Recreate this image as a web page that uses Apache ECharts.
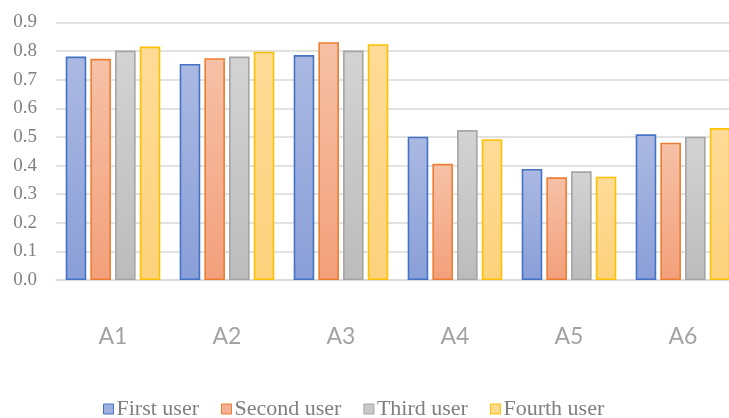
<!DOCTYPE html>
<html>
<head>
<meta charset="utf-8">
<script src="https://cdn.jsdelivr.net/npm/echarts@6/dist/echarts.min.js"></script>
<style>
  html, body { margin: 0; padding: 0; background: #ffffff; overflow: hidden; }
  #chart { width: 729px; height: 418px; }
</style>
</head>
<body>
<div id="chart"></div>
<script>
// Categories and per-user scores
const categories = ['A1', 'A2', 'A3', 'A4', 'A5', 'A6'];
const firstUser  = [0.781, 0.755, 0.786, 0.501, 0.388, 0.509];
const secondUser = [0.773, 0.775, 0.831, 0.406, 0.359, 0.480];
const thirdUser  = [0.802, 0.781, 0.802, 0.524, 0.380, 0.501];
const fourthUser = [0.816, 0.798, 0.824, 0.492, 0.361, 0.531];
const seriesNames = ['First user', 'Second user', 'Third user', 'Fourth user'];
const yTicks = [0, 0.1, 0.2, 0.3, 0.4, 0.5, 0.6, 0.7, 0.8, 0.9];

// Fill gradients (top -> bottom) and outline colours for each user
const palette = [
  { top: '#abb9e2', bottom: '#8a9fd8', border: '#4472c4', icon: '#9fb0de' },
  { top: '#f6c1a7', bottom: '#f3a07b', border: '#ed7d31', icon: '#f4b193' },
  { top: '#d3d3d3', bottom: '#bcbcbc', border: '#a5a5a5', icon: '#c9c9c9' },
  { top: '#fedb97', bottom: '#fdd27c', border: '#ffc000', icon: '#fed88b' }
];

const values = [firstUser, secondUser, thirdUser, fourthUser];

const chart = echarts.init(document.getElementById('chart'), null, { renderer: 'canvas' });

const series = values.map((data, i) => ({
  name: seriesNames[i],
  type: 'bar',
  data: data,
  barGap: '20%',
  barCategoryGap: '17%',
  itemStyle: {
    color: new echarts.graphic.LinearGradient(0, 0, 0, 1, [
      { offset: 0, color: palette[i].top },
      { offset: 1, color: palette[i].bottom }
    ]),
    borderColor: palette[i].border,
    borderWidth: 1.6
  },
  emphasis: { disabled: true }
}));

chart.setOption({
  animation: false,
  backgroundColor: '#ffffff',
  // plot area runs past the right edge of the canvas, so the last bar is clipped
  grid: {
    left: 56, width: 684, top: 22.5, height: 257.5,
    containLabel: false,
    outerBoundsMode: 'none'
  },
  legend: {
    data: seriesNames.map((n, i) => ({
      name: n,
      itemStyle: { color: palette[i].icon, borderColor: palette[i].border, borderWidth: 1 }
    })),
    icon: 'rect',
    left: 98,
    top: 393,
    itemWidth: 10,
    itemHeight: 10,
    itemGap: 22,
    textStyle: {
      fontFamily: '"Liberation Serif", "DejaVu Serif", serif',
      fontSize: 22,
      color: '#7f7f7f',
      padding: [0, 0, 0, -2]
    }
  },
  xAxis: {
    type: 'category',
    data: categories,
    axisLine: { show: true, lineStyle: { color: '#d9d9d9', width: 1.5 } },
    axisTick: { show: false },
    axisLabel: {
      margin: 45,
      fontFamily: '"Liberation Sans Narrow", Lato, sans-serif',
      fontSize: 23,
      color: '#a3a3a3'
    }
  },
  yAxis: {
    type: 'value',
    min: yTicks[0],
    max: yTicks[yTicks.length - 1],
    interval: 0.1,
    axisLine: { show: false },
    axisTick: { show: false },
    splitLine: { lineStyle: { color: '#d9d9d9', width: 1.5 } },
    axisLabel: {
      margin: 19,
      fontFamily: '"Liberation Serif", "DejaVu Serif", serif',
      fontSize: 19,
      color: '#808080',
      formatter: v => v.toFixed(1)
    }
  },
  series: series
});
</script>
</body>
</html>
